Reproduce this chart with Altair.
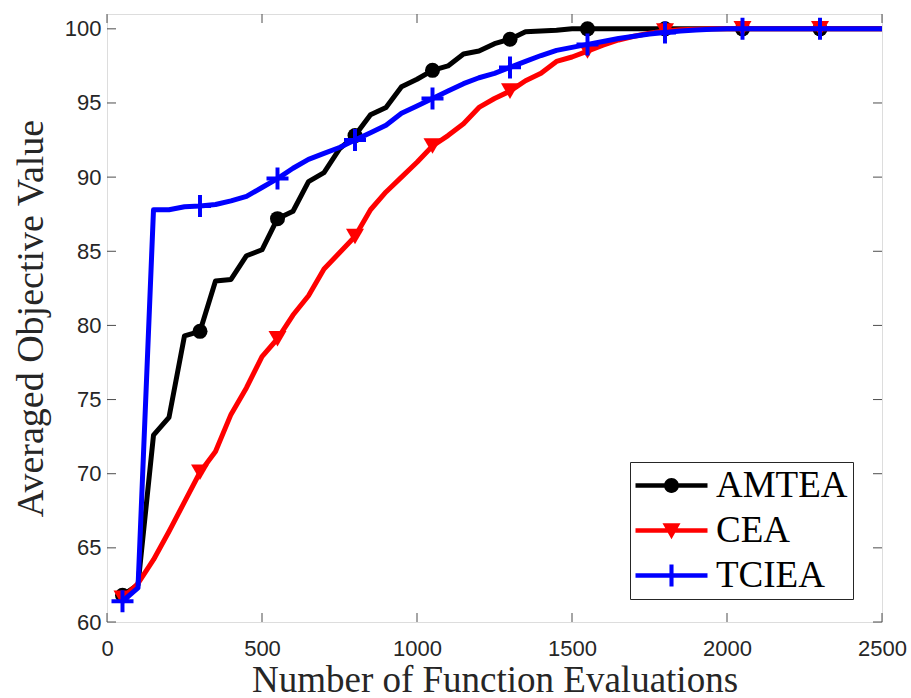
import altair as alt
import pandas as pd

# Number of function evaluations (x) and averaged objective values per algorithm
evals = [50, 100, 150, 200, 250, 300, 350, 400, 450, 500,
         550, 600, 650, 700, 750, 800, 850, 900, 950, 1000,
         1050, 1100, 1150, 1200, 1250, 1300, 1350, 1400, 1450, 1500,
         1550, 1600, 1650, 1700, 1750, 1800, 1850, 1900, 1950, 2000,
         2050, 2100, 2150, 2200, 2250, 2300, 2350, 2400, 2450, 2500]

amtea = [61.8, 62.5, 72.6, 73.8, 79.3, 79.6, 83.0, 83.1, 84.7, 85.1,
         87.2, 87.7, 89.7, 90.3, 91.9, 92.8, 94.2, 94.7, 96.1, 96.6,
         97.2, 97.5, 98.3, 98.5, 99.0, 99.3, 99.8, 99.85, 99.9, 100.0,
         100.0, 100.0, 100.0, 100.0, 100.0, 100.0, 100.0, 100.0, 100.0, 100.0,
         100.0, 100.0, 100.0, 100.0, 100.0, 100.0, 100.0, 100.0, 100.0, 100.0]

cea = [61.6, 62.6, 64.2, 66.1, 68.1, 70.1, 71.5, 74.0, 75.8, 77.9,
       79.1, 80.7, 82.0, 83.8, 84.9, 86.0, 87.8, 89.0, 90.0, 91.0,
       92.1, 92.8, 93.6, 94.7, 95.3, 95.8, 96.5, 97.0, 97.8, 98.1,
       98.5, 98.9, 99.25, 99.5, 99.7, 99.85, 99.93, 99.97, 100.0, 100.0,
       100.0, 100.0, 100.0, 100.0, 100.0, 100.0, 100.0, 100.0, 100.0, 100.0]

tciea = [61.4, 62.3, 87.8, 87.8, 88.0, 88.05, 88.15, 88.4, 88.7, 89.3,
         89.9, 90.6, 91.2, 91.6, 92.0, 92.5, 93.0, 93.5, 94.3, 94.8,
         95.3, 95.8, 96.3, 96.7, 97.0, 97.4, 97.8, 98.2, 98.55, 98.75,
         98.95, 99.15, 99.35, 99.5, 99.65, 99.75, 99.85, 99.92, 99.97, 100.0,
         100.0, 100.0, 100.0, 100.0, 100.0, 100.0, 100.0, 100.0, 100.0, 100.0]

series_names = ["AMTEA", "CEA", "TCIEA"]
series_colors = ["#000000", "#ff0000", "#0000ff"]
x_ticks = [0, 500, 1000, 1500, 2000, 2500]
y_ticks = [60, 65, 70, 75, 80, 85, 90, 95, 100]
marker_every = 5

W, H = 775, 608
TICK_LEN = 9
FRAME = "#4d4d4d"
TEXT = "#262626"
X_TITLE = "Number of Function Evaluations"
Y_TITLE = "Averaged Objective Value"

# plus sign marker as a filled polygon
PLUS = ("M-1,-0.18 L-0.18,-0.18 L-0.18,-1 L0.18,-1 L0.18,-0.18 L1,-0.18 L1,0.18 "
        "L0.18,0.18 L0.18,1 L-0.18,1 L-0.18,0.18 L-1,0.18 Z")
marker_shapes = ["circle", "triangle-down", PLUS]
marker_sizes = [225, 324, 484]

# legend glyphs: a line segment with the series marker in the middle
LINE = "M-3,-0.19 L3,-0.19 L3,0.19 L-3,0.19 Z "
legend_glyphs = [
    LINE + "M-0.62,0 A0.62,0.62 0 1,1 0.62,0 A0.62,0.62 0 1,1 -0.62,0 Z",
    LINE + "M-0.75,-0.6 L0.75,-0.6 L0,0.72 Z",
    LINE + "M-0.17,-0.92 L0.17,-0.92 L0.17,0.92 L-0.17,0.92 Z",
]

rows = []
for name, vals in zip(series_names, [amtea, cea, tciea]):
    for i, (x, y) in enumerate(zip(evals, vals)):
        rows.append({"series": name, "evals": x, "value": y,
                     "marker": i % marker_every == 0})
df = pd.DataFrame(rows)

x_scale = alt.Scale(domain=[0, 2500], nice=False, zero=False)
y_scale = alt.Scale(domain=[60, 101], nice=False, zero=False)

x_axis = alt.Axis(
    values=x_ticks, format="d", ticks=False, tickSize=0, domain=False, grid=False,
    labelFont="Liberation Sans", labelFontSize=22, labelColor=TEXT,
    labelBaseline="alphabetic", labelPadding=33, labelFlush=False,
    titleFont="Liberation Serif",
    titleFontSize=37, titleFontWeight="normal", titleColor=TEXT,
    titleBaseline="alphabetic", titleY=69,
)
y_axis = alt.Axis(
    values=y_ticks, format="d", ticks=False, tickSize=0, domain=False, grid=False,
    labelFont="Liberation Sans", labelFontSize=22, labelColor=TEXT,
    labelPadding=6, labelFlush=False,
    titleFont="Liberation Serif",
    titleFontSize=38, titleFontWeight="normal", titleColor=TEXT,
    titleAngle=270, titleBaseline="alphabetic", titleX=-65, titleY=H / 2,
)


def X(field):
    return alt.X(field, scale=x_scale, axis=x_axis, title=X_TITLE)


def Y(field):
    return alt.Y(field, scale=y_scale, axis=y_axis, title=Y_TITLE)


layers = []

# inward tick marks on all four sides of the box
xt = pd.DataFrame({"evals": x_ticks})
yt = pd.DataFrame({"value": y_ticks})
tick_rule = dict(color=FRAME, strokeWidth=1)
layers.append(alt.Chart(xt).mark_rule(**tick_rule).encode(
    x=X("evals:Q"), y=alt.value(H), y2=alt.value(H - TICK_LEN)))
layers.append(alt.Chart(xt).mark_rule(**tick_rule).encode(
    x=X("evals:Q"), y=alt.value(0), y2=alt.value(TICK_LEN)))
layers.append(alt.Chart(yt).mark_rule(**tick_rule).encode(
    y=Y("value:Q"), x=alt.value(0), x2=alt.value(TICK_LEN)))
layers.append(alt.Chart(yt).mark_rule(**tick_rule).encode(
    y=Y("value:Q"), x=alt.value(W), x2=alt.value(W - TICK_LEN)))

for name, col, shp, sz in zip(series_names, series_colors, marker_shapes, marker_sizes):
    sub = df[df["series"] == name]
    layers.append(alt.Chart(sub).mark_line(color=col, strokeWidth=5, strokeJoin="round").encode(
        x=X("evals:Q"), y=Y("value:Q")))
    layers.append(alt.Chart(sub[sub["marker"]]).mark_point(
        shape=shp, size=sz, filled=True, color=col, opacity=1, strokeWidth=0).encode(
        x=X("evals:Q"), y=Y("value:Q")))

legend = alt.Legend(
    title=None, orient="none", legendX=523, legendY=448, padding=5,
    symbolSize=576, symbolOffset=18, labelOffset=26, rowPadding=7,
    labelFont="Liberation Serif", labelFontSize=37, labelColor="#000000",
    strokeColor=TEXT, fillColor="#ffffff", symbolStrokeWidth=0, labelLimit=400,
    symbolOpacity=1,
)

# legend entries (rows carry no position, so only the legend is drawn)
leg = pd.DataFrame({"series": series_names, "evals": [None] * 3, "value": [None] * 3})
layers.append(alt.Chart(leg).mark_point(filled=True, size=576, opacity=1, strokeWidth=0).encode(
    x=X("evals:Q"), y=Y("value:Q"),
    color=alt.Color("series:N", scale=alt.Scale(domain=series_names, range=series_colors),
                    legend=legend),
    shape=alt.Shape("series:N", scale=alt.Scale(domain=series_names, range=legend_glyphs),
                    legend=legend),
))

chart = alt.layer(*layers).properties(
    width=W, height=H,
    autosize=alt.AutoSizeParams(type="none"),
    padding={"left": 107, "top": 14, "right": 29, "bottom": 76},
).configure_view(
    stroke=FRAME, strokeWidth=1
).configure(background="#ffffff")

chart.save("out.html", embed_options={"renderer": "svg", "actions": False})
